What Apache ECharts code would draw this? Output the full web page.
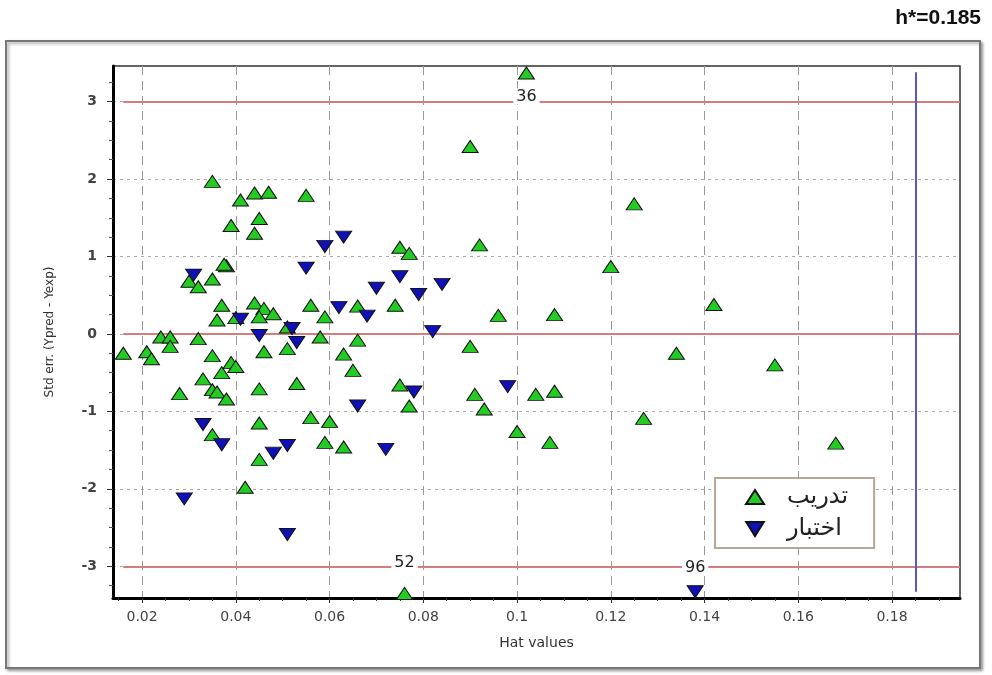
<!DOCTYPE html>
<html>
  <head>
    <meta charset="utf-8" />
    <title>Williams plot</title>
    <script type="text/javascript" src="https://cdn.jsdelivr.net/npm/echarts@6/dist/echarts.min.js"></script>
    <style>
      html, body { margin: 0; padding: 0; background: #fff; }
    </style>
  </head>
  <body>
      <div id="main" style="width:992px;height:675px;"></div>
      <script type="text/javascript">
        // [hat value, std err, tag]
        var trainData = [
            [0.016, -0.25], [0.021, -0.23], [0.022, -0.32], [0.024, -0.04], [0.026, -0.04],
            [0.026, -0.16], [0.028, -0.77], [0.032, -0.06], [0.030, 0.68], [0.032, 0.61],
            [0.033, -0.58], [0.035, -0.28], [0.035, 1.97], [0.035, 0.71], [0.037, 0.37],
            [0.036, 0.18], [0.037, -0.50], [0.035, -0.72], [0.036, -0.75], [0.038, -0.84],
            [0.039, -0.37], [0.040, -0.42], [0.038, 0.88], [0.0375, 0.90], [0.039, 1.40],
            [0.041, 1.73], [0.035, -1.30], [0.042, -1.98], [0.040, 0.21], [0.044, 1.82],
            [0.047, 1.83], [0.045, 1.49], [0.044, 1.30], [0.044, 0.40], [0.046, 0.33],
            [0.048, 0.26], [0.045, 0.22], [0.046, -0.23], [0.045, -0.71], [0.045, -1.15],
            [0.045, -1.62], [0.051, -0.19], [0.051, 0.09], [0.053, -0.64], [0.055, 1.79],
            [0.056, 0.37], [0.056, -1.08], [0.058, -0.04], [0.059, 0.22], [0.060, -1.13],
            [0.059, -1.40], [0.063, -0.26], [0.063, -1.46], [0.065, -0.47], [0.066, 0.36],
            [0.066, -0.08], [0.074, 0.37], [0.075, 1.12], [0.077, 1.04], [0.075, -0.66],
            [0.077, -0.93], [0.076, -3.35, '52'], [0.090, 2.42], [0.092, 1.15], [0.090, -0.16],
            [0.091, -0.78], [0.093, -0.97], [0.096, 0.24], [0.100, -1.26], [0.102, 3.37, '36'],
            [0.104, -0.78], [0.108, 0.25], [0.108, -0.74], [0.107, -1.40], [0.120, 0.87],
            [0.125, 1.68], [0.127, -1.09], [0.134, -0.25], [0.142, 0.38], [0.155, -0.40],
            [0.168, -1.41]
        ];
        var testData = [
            [0.031, 0.76], [0.033, -1.17], [0.037, -1.43], [0.029, -2.13], [0.041, 0.19],
            [0.045, -0.02], [0.048, -1.54], [0.051, -1.44], [0.052, 0.07], [0.053, -0.11],
            [0.051, -2.59], [0.055, 0.85], [0.059, 1.13], [0.063, 1.25], [0.062, 0.34],
            [0.068, 0.23], [0.066, -0.93], [0.070, 0.59], [0.072, -1.49], [0.075, 0.74],
            [0.078, -0.75], [0.079, 0.51], [0.082, 0.03], [0.084, 0.64], [0.098, -0.68],
            [0.138, -3.33, '96']
        ];
        var seriesNames = ['تدريب', 'اختبار'];
        var xTicks = [0.02, 0.04, 0.06, 0.08, 0.1, 0.12, 0.14, 0.16, 0.18];
        var yTicks = [-3, -2, -1, 0, 1, 2, 3];
        var limitY = [3, 0, -3];
        var hStar = 0.185;

        window.onload = function () {
            var myChart = echarts.init(document.getElementById('main'));

            var xMin = 0.0138, xMax = 0.1945, yMin = -3.41, yMax = 3.46;

            // minor ticks (every 0.005 on x, every 0.25 on y)
            var xMinor = [];
            for (var i = 3; i <= 38; i++) {
                var v = +(i * 0.005).toFixed(3);
                if (xTicks.indexOf(v) < 0) xMinor.push(v);
            }
            var yMinor = [];
            for (var j = -13; j <= 13; j++) {
                if (j % 4 !== 0) yMinor.push(j * 0.25);
            }

            // offsets of the id labels
            var tagDist = { '36': 9, '52': 16, '96': 10 };

            function toItems(arr) {
                return arr.map(function (d) {
                    if (!d[2]) return { value: [d[0], d[1]] };
                    return {
                        value: [d[0], d[1]],
                        label: {
                            show: true,
                            formatter: d[2],
                            position: d[1] > 0 ? 'bottom' : 'top',
                            distance: tagDist[d[2]],
                            backgroundColor: '#fff',
                            padding: [0, 3],
                            fontSize: 16,
                            fontFamily: 'DejaVu Sans',
                            color: '#222'
                        }
                    };
                });
            }

            var redLines = limitY.map(function (y) {
                return [{ coord: [0.016, y] }, { coord: [xMax, y] }];
            });

            var labelFont = { fontFamily: 'DejaVu Sans', color: '#444' };

            var option = {
              animation: false,
              title: {
                  text: 'h*=0.185',
                  right: 6,
                  top: 3,
                  textStyle: {
                      fontFamily: 'Liberation Sans',
                      fontSize: 21,
                      fontWeight: 'bold',
                      color: '#111'
                  }
              },
              graphic: [
                {
                  type: 'rect',
                  z: -1,
                  shape: { x: 6, y: 41, width: 974, height: 627 },
                  style: {
                      fill: '#fff',
                      stroke: '#777',
                      lineWidth: 2,
                      shadowBlur: 3,
                      shadowOffsetX: 2,
                      shadowOffsetY: 2,
                      shadowColor: 'rgba(0,0,0,0.35)'
                  }
                }
              ],
              grid: {
                  left: 113,
                  top: 66,
                  right: 32,
                  bottom: 77,
                  show: true,
                  borderColor: '#333',
                  borderWidth: 1.5,
                  backgroundColor: 'transparent'
              },
              legend: {
                  left: 715,
                  top: 478,
                  orient: 'vertical',
                  itemWidth: 18,
                  itemHeight: 14,
                  itemGap: 8,
                  padding: [7, 26, 7, 30],
                  borderColor: '#b5a898',
                  borderWidth: 2,
                  backgroundColor: '#fff',
                  textStyle: {
                      fontFamily: 'DejaVu Sans',
                      fontSize: 24,
                      color: '#222',
                      padding: [0, 0, 0, 18]
                  },
                  data: seriesNames
              },
              xAxis: [
                {
                  type: 'value',
                  min: xMin,
                  max: xMax,
                  name: 'Hat values',
                  nameLocation: 'middle',
                  nameGap: 38,
                  nameTextStyle: { fontFamily: 'DejaVu Sans', fontSize: 14, color: '#333' },
                  axisLine: { onZero: false, lineStyle: { color: '#000', width: 3 } },
                  axisTick: { customValues: xTicks, length: 5, lineStyle: { color: '#333' } },
                  axisLabel: Object.assign({ customValues: xTicks, fontSize: 14, margin: 12 }, labelFont),
                  splitLine: { show: true, lineStyle: { color: '#999', type: [9, 6], width: 1 } }
                },
                {
                  type: 'value',
                  min: xMin,
                  max: xMax,
                  position: 'bottom',
                  axisLine: { show: false, onZero: false },
                  axisTick: { customValues: xMinor, length: 3, lineStyle: { color: '#333' } },
                  axisLabel: { show: false },
                  splitLine: { show: false }
                }
              ],
              yAxis: [
                {
                  type: 'value',
                  min: yMin,
                  max: yMax,
                  name: 'Std err. (Ypred - Yexp)',
                  nameLocation: 'middle',
                  nameGap: 57,
                  nameTextStyle: { fontFamily: 'DejaVu Sans', fontSize: 12, color: '#333' },
                  axisLine: { onZero: false, lineStyle: { color: '#000', width: 3 } },
                  axisTick: { customValues: yTicks, length: 6, lineStyle: { color: '#333' } },
                  axisLabel: Object.assign({ customValues: yTicks, fontSize: 14, fontWeight: 'bold', margin: 16 }, labelFont),
                  splitLine: { show: true, lineStyle: { color: '#aaa', type: [3, 4], width: 1 } }
                },
                {
                  type: 'value',
                  min: yMin,
                  max: yMax,
                  position: 'left',
                  axisLine: { show: false, onZero: false },
                  axisTick: { customValues: yMinor, length: 4, lineStyle: { color: '#555' } },
                  axisLabel: { show: false },
                  splitLine: { show: false }
                }
              ],
              series: [
                {
                  name: seriesNames[0],
                  type: 'scatter',
                  symbol: 'triangle',
                  symbolSize: [16, 12],
                  itemStyle: { color: '#22cc22', borderColor: '#111', borderWidth: 1, opacity: 1 },
                  data: toItems(trainData),
                  markLine: {
                      silent: true,
                      symbol: 'none',
                      z: 1,
                      label: { show: false },
                      lineStyle: { color: '#d57d7d', width: 2, type: 'solid' },
                      data: redLines
                  }
                },
                {
                  name: seriesNames[1],
                  type: 'scatter',
                  symbol: 'path://M0,0L10,0L5,8Z',
                  symbolSize: [16, 12],
                  itemStyle: { color: '#1010b8', borderColor: '#111', borderWidth: 1, opacity: 1 },
                  data: toItems(testData),
                  markLine: {
                      silent: true,
                      symbol: 'none',
                      z: 1,
                      label: { show: false },
                      lineStyle: { color: '#5a5ab8', width: 2, type: 'solid' },
                      data: [[{ coord: [hStar, 3.38] }, { coord: [hStar, -3.33] }]]
                  }
                }
              ]
            };
            myChart.setOption(option);
        };
      </script>
  </body>
</html>
